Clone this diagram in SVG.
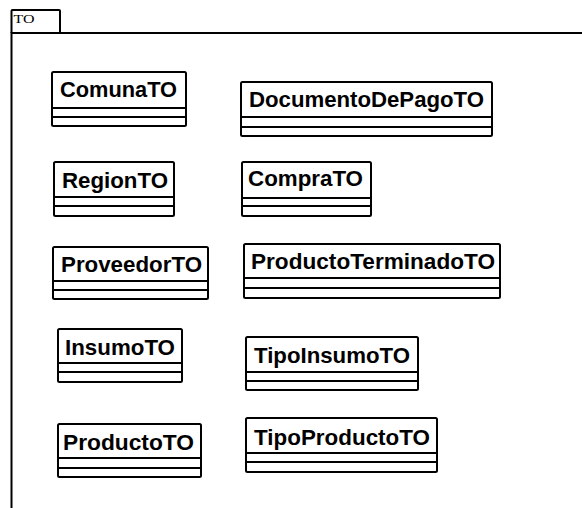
<svg xmlns="http://www.w3.org/2000/svg" width="582" height="508" viewBox="0 0 582 508">
<style>
.frame{fill:none;stroke:#000;stroke-width:2}
.box{fill:#fff;stroke:#000;stroke-width:2}
.sep{stroke:#000;stroke-width:2}
.name{font-family:"Liberation Sans",Arial,sans-serif;font-weight:bold;font-size:22px;fill:#000}
.pkg{font-family:"Liberation Serif","Times New Roman",serif;font-size:13px;fill:#000}
</style>
<rect width="582" height="508" fill="#fff"/>
<g id="package">
<path class="frame" d="M11.5 508 V33 H582"/>
<path class="frame" d="M11.5 33 V11 Q11.5 10 12.5 10 H59 Q60 10 60 11 V33"/>
<text class="pkg" x="13.5" y="23" textLength="21" lengthAdjust="spacingAndGlyphs">TO</text>
</g>
<g id="connectors"></g>
<g id="ComunaTO">
<rect class="box" x="52" y="72" width="134" height="54" rx="1.5"/>
<line class="sep" x1="52" y1="108" x2="186" y2="108"/>
<line class="sep" x1="52" y1="117" x2="186" y2="117"/>
<text class="name" x="60" y="97" textLength="117" lengthAdjust="spacingAndGlyphs">ComunaTO</text>
</g>
<g id="DocumentoDePagoTO">
<rect class="box" x="241" y="82" width="251" height="54" rx="1.5"/>
<line class="sep" x1="241" y1="117" x2="492" y2="117"/>
<line class="sep" x1="241" y1="127" x2="492" y2="127"/>
<text class="name" x="249" y="107" textLength="235" lengthAdjust="spacingAndGlyphs">DocumentoDePagoTO</text>
</g>
<g id="RegionTO">
<rect class="box" x="54" y="162" width="120" height="54" rx="1.5"/>
<line class="sep" x1="54" y1="197" x2="174" y2="197"/>
<line class="sep" x1="54" y1="206" x2="174" y2="206"/>
<text class="name" x="62" y="188" textLength="106" lengthAdjust="spacingAndGlyphs">RegionTO</text>
</g>
<g id="CompraTO">
<rect class="box" x="242" y="162" width="129" height="54" rx="1.5"/>
<line class="sep" x1="242" y1="198" x2="371" y2="198"/>
<line class="sep" x1="242" y1="206" x2="371" y2="206"/>
<text class="name" x="248" y="186" textLength="115" lengthAdjust="spacingAndGlyphs">CompraTO</text>
</g>
<g id="ProveedorTO">
<rect class="box" x="53" y="247" width="155" height="52" rx="1.5"/>
<line class="sep" x1="53" y1="281" x2="208" y2="281"/>
<line class="sep" x1="53" y1="290" x2="208" y2="290"/>
<text class="name" x="61" y="272" textLength="141" lengthAdjust="spacingAndGlyphs">ProveedorTO</text>
</g>
<g id="ProductoTerminadoTO">
<rect class="box" x="244" y="244" width="256" height="54" rx="1.5"/>
<line class="sep" x1="244" y1="278" x2="500" y2="278"/>
<line class="sep" x1="244" y1="288" x2="500" y2="288"/>
<text class="name" x="251" y="269" textLength="244" lengthAdjust="spacingAndGlyphs">ProductoTerminadoTO</text>
</g>
<g id="InsumoTO">
<rect class="box" x="58" y="329" width="124" height="53" rx="1.5"/>
<line class="sep" x1="58" y1="363" x2="182" y2="363"/>
<line class="sep" x1="58" y1="372" x2="182" y2="372"/>
<text class="name" x="65" y="355" textLength="110" lengthAdjust="spacingAndGlyphs">InsumoTO</text>
</g>
<g id="TipoInsumoTO">
<rect class="box" x="246" y="337" width="172" height="53" rx="1.5"/>
<line class="sep" x1="246" y1="372" x2="418" y2="372"/>
<line class="sep" x1="246" y1="381" x2="418" y2="381"/>
<text class="name" x="254" y="363" textLength="156" lengthAdjust="spacingAndGlyphs">TipoInsumoTO</text>
</g>
<g id="ProductoTO">
<rect class="box" x="58" y="424" width="143" height="53" rx="1.5"/>
<line class="sep" x1="58" y1="458" x2="201" y2="458"/>
<line class="sep" x1="58" y1="468" x2="201" y2="468"/>
<text class="name" x="63" y="450" textLength="131" lengthAdjust="spacingAndGlyphs">ProductoTO</text>
</g>
<g id="TipoProductoTO">
<rect class="box" x="246" y="418" width="191" height="54" rx="1.5"/>
<line class="sep" x1="246" y1="453" x2="437" y2="453"/>
<line class="sep" x1="246" y1="462" x2="437" y2="462"/>
<text class="name" x="254" y="445" textLength="176" lengthAdjust="spacingAndGlyphs">TipoProductoTO</text>
</g>
</svg>
